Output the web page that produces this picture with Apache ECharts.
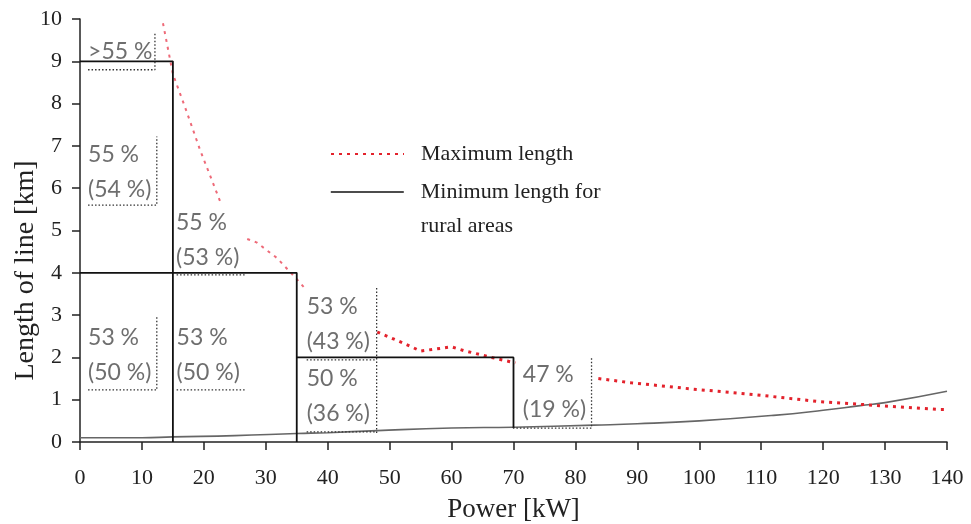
<!DOCTYPE html>
<html>
<head>
<meta charset="utf-8">
<script src="https://cdn.jsdelivr.net/npm/echarts@6/dist/echarts.min.js"></script>
<style>
  html, body { margin: 0; padding: 0; background: #fff; }
  #chart { width: 971px; height: 524px; }
</style>
</head>
<body>
<div id="chart"></div>
<script>
// x: power [kW], y: length of line [km]
const maxLengthEarly = [
  [13.4, 9.9], [15, 8.7], [17, 7.9], [19.4, 6.9], [22.6, 5.7], ['-', '-'],
  [27, 4.8], [28.5, 4.72], [31.8, 4.35], [35, 3.85], [36.5, 3.6]
]
const maxLength = [
  [48, 2.6], [52, 2.35], [55, 2.15], [57.5, 2.2], [60, 2.25], [62, 2.16], [67, 1.98], [70.3, 1.87], ['-', '-'],
  [83.7, 1.5], [89, 1.4], [99, 1.25], [109, 1.12], [119, 0.96], [128, 0.87], [138.6, 0.77], [140, 0.77]
]
const minLengthRural = [
  [0, 0.1], [10, 0.1], [15, 0.12], [25, 0.15], [35, 0.2], [40, 0.22], [48, 0.27], [60, 0.33],
  [70, 0.35], [83, 0.4], [90, 0.43], [100, 0.5], [112, 0.63], [120, 0.75], [126, 0.86], [130, 0.93], [140, 1.2]
]
// 阶梯线
const stepLines = [
  [[0, 9], [15, 9], [15, 0]],
  [[0, 4], [35, 4], [35, 0]],
  [[35, 2], [70, 2], [70, 0.33]]
]
// 标注框虚线
const boxLines = [
  [[1.3, 8.8], [12.1, 8.8], [12.1, 9.65]],
  [[1.3, 5.6], [12.4, 5.6], [12.4, 7.22]],
  [[15.6, 3.95], [26.9, 3.95]],
  [[1.3, 1.23], [12.4, 1.23], [12.4, 2.95]],
  [[15.6, 1.23], [26.6, 1.23]],
  [[36.6, 1.94], [47.9, 1.94]],
  [[47.9, 3.64], [47.9, 0.21]],
  [[36.6, 0.24], [47.9, 0.24]],
  [[69.9, 0.33], [82.6, 0.33], [82.6, 2.02]]
]
const pctLabels = [
  [1.3, 9.22, '>55 %'],
  [1.3, 6.39, '55 %\n(54 %)'],
  [15.5, 4.78, '55 %\n(53 %)'],
  [1.3, 2.06, '53 %\n(50 %)'],
  [15.6, 2.06, '53 %\n(50 %)'],
  [36.6, 2.79, '53 %\n(43 %)'],
  [36.6, 1.09, '50 %\n(36 %)'],
  [71.5, 1.18, '47 %\n(19 %)']
]
const xTicks = { min: 0, max: 140, interval: 10 }
const yTicks = { min: 0, max: 10, interval: 1 }

const serif = 'Liberation Serif'
const chart = echarts.init(document.getElementById('chart'))

const series = [
  {
    name: 'Minimum length for rural areas',
    type: 'line',
    data: minLengthRural,
    smooth: true,
    symbol: 'none',
    lineStyle: { color: '#666', width: 1.6 },
    z: 3
  },
  {
    name: 'Maximum length',
    type: 'line',
    data: maxLength,
    symbol: 'none',
    connectNulls: false,
    lineStyle: { color: '#e3222c', width: 3, type: [3, 5] },
    z: 4
  },
  {
    name: 'maxEarly',
    type: 'line',
    data: maxLengthEarly,
    symbol: 'none',
    connectNulls: false,
    lineStyle: { color: '#ee6a78', width: 2, type: [3, 5] },
    z: 4
  }
]
stepLines.forEach((seg, i) => {
  series.push({
    name: 'step' + i, type: 'line', data: seg, symbol: 'none', silent: true,
    lineStyle: { color: '#111', width: 1.8 }, z: 5
  })
})
boxLines.forEach((seg, i) => {
  series.push({
    name: 'box' + i, type: 'line', data: seg, symbol: 'none', silent: true,
    lineStyle: { color: '#333', width: 1.3, type: [1.5, 2] }, z: 6
  })
})
series.push({
  name: 'labels',
  type: 'scatter',
  data: pctLabels,
  symbolSize: 0,
  silent: true,
  label: {
    show: true,
    position: 'right',
    distance: 0,
    formatter: p => p.data[2],
    fontFamily: 'Lato',
    fontSize: 23,
    lineHeight: 35,
    color: '#4a4a4a'
  },
  z: 7
})

const legendText = { fontFamily: serif, fontSize: 22, color: '#222' }

chart.setOption({
  animation: false,
  backgroundColor: '#fff',
  grid: { left: 80, right: 24, top: 19, bottom: 82, outerBoundsMode: 'none' },
  legend: [
    {
      data: ['Maximum length'],
      left: 330, top: 140, padding: 0,
      itemWidth: 73, itemHeight: 14,
      itemStyle: { opacity: 0 },
      textStyle: Object.assign({ padding: [0, 0, 0, 12], lineHeight: 28 }, legendText),
      selectedMode: false
    },
    {
      data: ['Minimum length for rural areas'],
      // 空首行让第一行文字与图例线对齐
      formatter: () => '\u00a0\nMinimum length for\nrural areas',
      left: 330, top: 141, padding: 0,
      itemWidth: 73, itemHeight: 14,
      itemStyle: { opacity: 0 },
      lineStyle: { color: '#111', width: 1.6 },
      textStyle: Object.assign({ padding: [0, 0, 0, 12], lineHeight: 34 }, legendText),
      selectedMode: false
    }
  ],
  xAxis: {
    type: 'value',
    min: xTicks.min, max: xTicks.max, interval: xTicks.interval,
    name: 'Power [kW]',
    nameLocation: 'middle',
    nameGap: 54,
    nameMoveOverlap: false,
    nameTextStyle: { fontFamily: serif, fontSize: 27, color: '#222' },
    axisLine: { lineStyle: { color: '#222', width: 1.5 } },
    axisTick: { length: 8, lineStyle: { color: '#222', width: 1.5 } },
    axisLabel: { margin: 25, fontFamily: serif, fontSize: 22, color: '#222' },
    splitLine: { show: false }
  },
  yAxis: {
    type: 'value',
    min: yTicks.min, max: yTicks.max, interval: yTicks.interval,
    name: 'Length of line [km]',
    nameLocation: 'middle',
    nameGap: 40,
    nameMoveOverlap: false,
    nameTextStyle: { fontFamily: serif, fontSize: 28, color: '#222', padding: [0, 80, 0, 0] },
    axisLine: { show: true, lineStyle: { color: '#222', width: 1.5 } },
    axisTick: { show: true, length: 8, lineStyle: { color: '#222', width: 1.5 } },
    axisLabel: { margin: 18, fontFamily: serif, fontSize: 22, color: '#222' },
    splitLine: { show: false }
  },
  series
})
</script>
</body>
</html>
